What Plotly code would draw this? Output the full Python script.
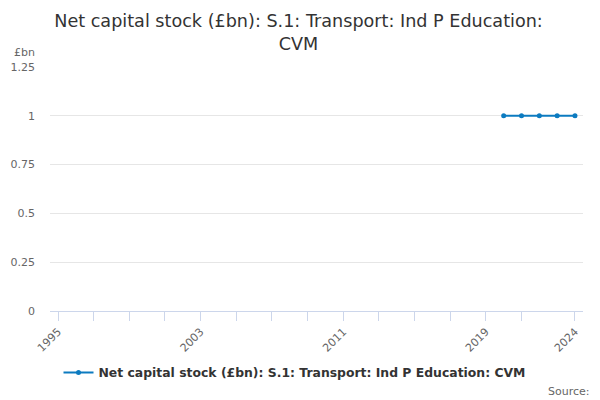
import plotly.graph_objects as go

years = [2020, 2021, 2022, 2023, 2024]
values = [1, 1, 1, 1, 1]
series_name = "Net capital stock (£bn): S.1: Transport: Ind P Education: CVM"
title_text = "Net capital stock (£bn): S.1: Transport: Ind P Education:<br>CVM"
tick_years = list(range(1995, 2022, 2)) + [2024]
label_years = [1995, 2003, 2011, 2019, 2024]
y_ticks = [0, 0.25, 0.5, 0.75, 1, 1.25]
y_ticktext = ["0", "0.25", "0.5", "0.75", "1", "1.25"]

font_family = "DejaVu Sans"
color = "#0c7bc0"

# page body has an 8px offset, so figure coords = window coords - 8
W, H = 592, 392
L, R, T, B = 42, 17, 59, 89
w_plot = W - L - R
h_plot = H - T - B

fig = go.Figure()
fig.add_trace(go.Scatter(
    x=years, y=values, mode="lines+markers", name=series_name,
    line=dict(color=color, width=2), marker=dict(color=color, size=5),
))

fig.update_layout(
    width=W, height=H,
    paper_bgcolor="white", plot_bgcolor="white",
    font=dict(family=font_family, color="#666666", size=11),
    title=dict(text=title_text, x=290.5 / W, xanchor="center", y=1 - 19 / H, yanchor="middle",
               font=dict(family=font_family, size=17.6, color="#333333")),
    margin=dict(l=L, r=R, t=T, b=B, autoexpand=False),
    showlegend=True,
    legend=dict(orientation="h", x=0.5 - 22 / w_plot, xanchor="center", y=-0.192, yanchor="top",
                font=dict(family=font_family, size=12.4, color="#333333", weight="bold")),
    xaxis=dict(
        range=[1994.55, 2024.45], tickmode="array", tickvals=tick_years,
        ticktext=[str(y) if y in label_years else "" for y in tick_years],
        tickangle=-45, ticks="outside", ticklen=9, tickcolor="#ccd6eb",
        showline=True, linecolor="#ccd6eb", showgrid=False, zeroline=False,
        tickfont=dict(size=11, color="#666666"),
    ),
    yaxis=dict(
        range=[0, 1.25], tickmode="array", tickvals=y_ticks, ticktext=y_ticktext,
        showgrid=True, gridcolor="#e6e6e6", zeroline=False, showline=False,
        tickfont=dict(size=11, color="#666666"), ticklabelstandoff=14,
    ),
)
fig.add_annotation(text="£bn", x=(4 - L) / w_plot, y=(H - 44 - B) / h_plot,
                   xref="paper", yref="paper", showarrow=False,
                   xanchor="left", yanchor="middle", font=dict(size=11, color="#666666"))
fig.add_annotation(text="Source:", x=(584 - L) / w_plot, y=(H - 392 - B) / h_plot,
                   xref="paper", yref="paper", showarrow=False,
                   xanchor="right", yanchor="bottom", font=dict(size=11, color="#666666"))

fig.write_html("out.html")
